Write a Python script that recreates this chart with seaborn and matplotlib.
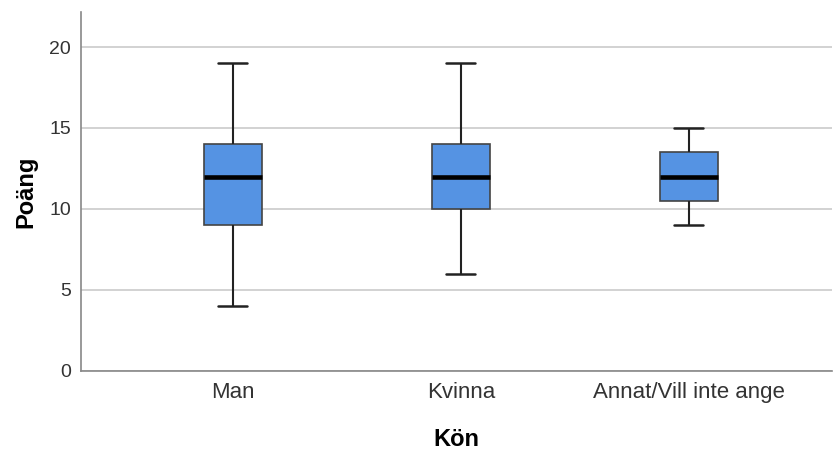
import matplotlib
matplotlib.use("Agg")
import matplotlib.pyplot as plt
import seaborn as sns
import pandas as pd

categories = ["Man", "Kvinna", "Annat/Vill inte ange"]
# five-number summaries: min, Q1, median, Q3, max
man_values = [4, 9, 12, 14, 19]
kvinna_values = [6, 10, 12, 14, 19]
annat_values = [9, 10.5, 12, 13.5, 15]
y_ticks = [0, 5, 10, 15, 20]

df = pd.DataFrame({
    "Kön": [categories[0]] * len(man_values) + [categories[1]] * len(kvinna_values) + [categories[2]] * len(annat_values),
    "Poäng": man_values + kvinna_values + annat_values,
})

sns.set_theme(style="white")
plt.rcParams["font.family"] = ["Liberation Sans", "DejaVu Sans"]

fig = plt.figure(figsize=(8.33, 4.5), dpi=100)
ax = fig.add_axes([0.0972, 0.1756, 0.9018, 0.7977])

ax.yaxis.grid(True, color="#cfcfcf", linewidth=1.3, zorder=0)
ax.set_axisbelow(True)

sns.boxplot(data=df, x="Kön", y="Poäng", order=categories, ax=ax,
            whis=(0, 100), width=0.254, color="#5593e3", saturation=1,
            linewidth=1.3, linecolor="#333333",
            medianprops=dict(color="black", linewidth=3.3),
            whiskerprops=dict(color="#222222", linewidth=1.5),
            capprops=dict(color="#222222", linewidth=1.8),
            boxprops=dict(edgecolor="#444444", linewidth=1.2),
            showfliers=False)

ax.set_ylim(0, 22.16)
ax.set_xlim(-0.667, 2.63)
ax.set_yticks(y_ticks)
ax.set_yticklabels([str(t) for t in y_ticks])
ax.tick_params(axis="both", length=0, colors="#333333")
ax.tick_params(axis="x", pad=8, labelsize=16)
ax.tick_params(axis="y", pad=7, labelsize=14)

for s in ["top", "right"]:
    ax.spines[s].set_visible(False)
for s in ["left", "bottom"]:
    ax.spines[s].set_color("#888888")
    ax.spines[s].set_linewidth(1.2)

ax.set_xlabel("Kön", fontsize=17, fontweight="bold", color="black", labelpad=18)
ax.set_ylabel("Poäng", fontsize=17, fontweight="bold", color="black", labelpad=9)

fig.savefig("out.png", dpi=100, facecolor="white")
